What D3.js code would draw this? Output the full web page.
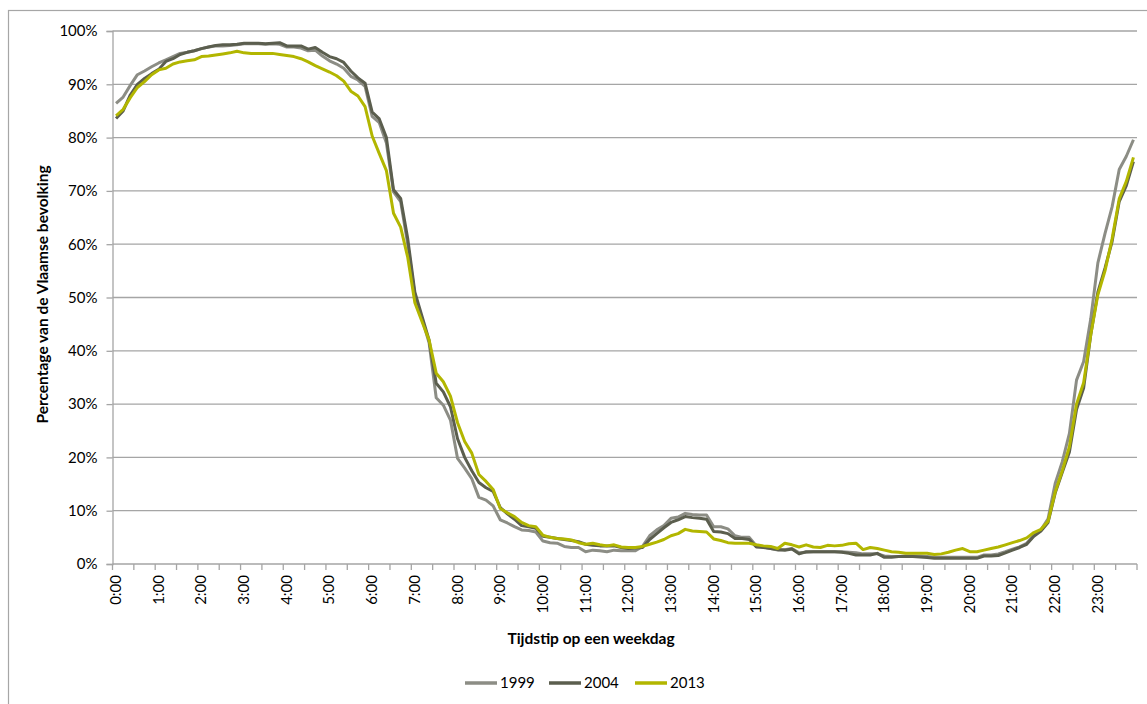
<!DOCTYPE html>
<html>
<head>
<meta charset="utf-8">
<script src="https://cdn.jsdelivr.net/npm/d3@7"></script>
<style>
body{margin:0;background:#fff;}
text{font-family:Lato,"Open Sans",sans-serif;fill:#000;}
</style>
</head>
<body>
<div id="chart"></div>
<script>
//series names and colours
const years = ["1999","2004","2013"];
const colors = ["#8c8d85","#5b5e4e","#b2b600"];

//one value every 10 minutes, 0:00 .. 23:50 (percent)
const v1999 = [86.4,87.6,89.8,91.8,92.5,93.3,94.0,94.6,95.2,95.8,96.0,96.3,
    96.7,97.0,97.2,97.2,97.3,97.4,97.6,97.6,97.6,97.5,97.6,97.5,
    97.0,97.0,96.8,96.3,96.4,95.3,94.4,93.8,93.0,91.5,90.8,89.6,
    84.0,82.8,79.0,69.8,68.0,60.0,50.5,46.0,41.5,31.2,29.8,27.0,
    19.8,18.0,16.0,12.5,12.0,10.9,8.3,7.7,7.0,6.4,6.3,6.0,
    4.3,4.0,3.9,3.3,3.1,3.1,2.3,2.6,2.5,2.3,2.6,2.5,
    2.5,2.5,3.3,5.3,6.4,7.2,8.6,8.8,9.5,9.3,9.2,9.2,
    7.0,7.0,6.6,5.3,5.0,5.0,3.4,3.2,2.9,2.6,2.7,2.9,
    2.1,2.2,2.3,2.3,2.3,2.3,2.3,2.2,2.1,1.9,1.9,1.9,
    1.5,1.4,1.4,1.5,1.5,1.5,1.4,1.25,1.25,1.25,1.25,1.25,
    1.25,1.25,1.7,1.7,1.9,2.3,2.8,3.2,3.9,5.4,6.4,8.5,
    15.1,19.2,24.5,34.5,38.0,46.0,56.5,62.0,67.0,74.0,76.5,79.6];
const v2004 = [83.6,85.0,88.0,90.0,91.1,92.0,92.8,94.3,94.8,95.6,96.0,96.3,
    96.7,97.0,97.3,97.4,97.4,97.5,97.7,97.7,97.7,97.6,97.7,97.8,
    97.2,97.2,97.2,96.6,96.9,96.0,95.2,94.8,94.1,92.5,91.2,90.2,
    84.8,83.5,80.0,70.2,68.6,61.0,51.0,46.5,42.0,33.9,32.3,29.5,
    23.5,20.0,17.5,15.3,14.3,13.6,10.6,9.4,8.4,7.2,7.0,6.7,
    5.2,5.0,4.8,4.6,4.4,4.2,3.7,3.5,3.4,3.4,3.4,3.1,
    2.9,3.0,3.1,4.6,5.7,6.8,7.8,8.3,8.9,8.7,8.6,8.4,
    6.1,6.0,5.7,4.8,4.8,4.6,3.2,3.1,2.9,2.7,2.6,2.8,
    1.9,2.3,2.3,2.3,2.3,2.3,2.2,2.0,1.7,1.7,1.7,2.0,
    1.25,1.25,1.4,1.4,1.4,1.3,1.2,1.06,1.06,1.06,1.06,1.06,
    1.06,1.06,1.5,1.5,1.6,2.1,2.6,3.1,3.7,5.2,6.2,7.8,
    13.3,17.2,21.0,29.0,33.0,43.0,51.0,55.5,60.5,68.0,71.0,75.5];
const v2013 = [84.1,85.3,87.5,89.4,90.5,91.8,92.7,93.0,93.8,94.2,94.4,94.6,
    95.2,95.3,95.5,95.7,95.9,96.2,95.9,95.8,95.8,95.8,95.8,95.6,
    95.4,95.2,94.8,94.2,93.5,92.9,92.3,91.6,90.6,88.7,87.8,85.8,
    80.3,77.0,73.8,65.8,63.2,57.5,49.0,45.5,42.0,35.8,34.2,31.5,
    26.5,23.0,20.8,16.8,15.5,14.0,10.4,9.6,8.9,7.8,7.2,7.0,
    5.4,5.0,4.8,4.7,4.5,4.0,3.7,3.9,3.6,3.4,3.6,3.2,
    3.1,3.1,3.3,3.7,4.1,4.6,5.3,5.7,6.5,6.2,6.1,6.0,
    4.7,4.4,4.0,3.9,3.9,3.9,3.6,3.4,3.3,2.9,3.9,3.6,
    3.2,3.6,3.2,3.1,3.5,3.4,3.5,3.8,3.9,2.7,3.1,2.9,
    2.6,2.3,2.2,2.0,2.0,2.0,2.0,1.8,1.9,2.2,2.6,2.9,
    2.3,2.3,2.6,2.9,3.2,3.6,4.0,4.4,4.9,5.9,6.5,8.0,
    13.5,17.5,22.0,30.0,34.0,43.0,50.5,55.0,61.0,68.5,71.8,76.3];
const series = [v1999, v2004, v2013];

//category labels: every 10 minutes
const times = [];
for (let hr = 0; hr < 24; hr++) {
    for (let m = 0; m < 60; m += 10) {
        times.push(hr + ":" + (m < 10 ? "0" + m : m));
    }
}
const yTicks = [0,10,20,30,40,50,60,70,80,90,100];

const w = 1147;
const h = 704;
const padLeft = 112.5, padRight = 1137, padTop = 31, padBottom = 564;
const gridColor = "#a5a5a5";

const svg = d3.select("#chart")
    .append("svg")
    .attr("width", w)
    .attr("height", h);

//outer frame of the chart area
svg.append("rect")
    .attr("x", 8.5)
    .attr("y", 10.5)
    .attr("width", 1160)
    .attr("height", 720)
    .attr("fill", "none")
    .attr("stroke", "#a6a6a6")
    .attr("stroke-width", 1.2);

const xScale = d3.scaleBand()
    .domain(times)
    .range([padLeft, padRight]);

const yScale = d3.scaleLinear()
    .domain([0, 100])
    .range([padBottom, padTop]);

//horizontal grid lines
svg.append("g")
    .selectAll("line")
    .data(yTicks.slice(1))
    .enter()
    .append("line")
    .attr("x1", padLeft)
    .attr("x2", padRight)
    .attr("y1", d => yScale(d))
    .attr("y2", d => yScale(d))
    .attr("stroke", gridColor)
    .attr("stroke-width", 1.3);

//y axis
const yAxis = d3.axisLeft(yScale)
    .tickValues(yTicks)
    .tickFormat(d => d + "%")
    .tickSize(6)
    .tickPadding(9);

const gy = svg.append("g")
    .attr("transform", "translate(" + padLeft + ",0)")
    .call(yAxis);
gy.selectAll("path,line").attr("stroke", gridColor).attr("stroke-width", 1.3);
gy.selectAll("text").style("font-size", "15px").style("font-family", "Lato");

//x axis: tick every half hour, label every hour
const gx = svg.append("g")
    .attr("transform", "translate(0," + padBottom + ")");
gx.append("line")
    .attr("x1", padLeft)
    .attr("x2", padRight)
    .attr("stroke", gridColor)
    .attr("stroke-width", 1.3);
gx.selectAll(".tick")
    .data(d3.range(0, times.length + 1, 3))
    .enter()
    .append("line")
    .attr("class", "tick")
    .attr("x1", d => d < times.length ? xScale(times[d]) : padRight)
    .attr("x2", d => d < times.length ? xScale(times[d]) : padRight)
    .attr("y1", 0)
    .attr("y2", 6)
    .attr("stroke", gridColor)
    .attr("stroke-width", 1.3);
gx.selectAll(".lab")
    .data(times.filter((t, i) => i % 6 === 0))
    .enter()
    .append("text")
    .attr("class", "lab")
    .attr("transform", d => "translate(" + (xScale(d) + xScale.bandwidth() / 2 + 5) + ",11) rotate(-90)")
    .attr("text-anchor", "end")
    .style("font-size", "15px")
    .text(d => d);

//the three lines
const line = d3.line()
    .x((d, i) => xScale(times[i]) + xScale.bandwidth() / 2)
    .y(d => yScale(d));

svg.append("g")
    .selectAll("path")
    .data(series)
    .enter()
    .append("path")
    .attr("d", d => line(d))
    .attr("fill", "none")
    .attr("stroke", (d, i) => colors[i])
    .attr("stroke-width", 3)
    .attr("stroke-linejoin", "round");

//axis titles
svg.append("text")
    .attr("transform", "translate(48," + ((padTop + padBottom) / 2 - 3) + ") rotate(-90)")
    .attr("text-anchor", "middle")
    .style("font-size", "15.5px")
    .style("font-weight", "bold")
    .text("Percentage van de Vlaamse bevolking");

svg.append("text")
    .attr("x", 591)
    .attr("y", 644)
    .attr("text-anchor", "middle")
    .style("font-size", "15.5px")
    .style("font-weight", "bold")
    .text("Tijdstip op een weekdag");

//legend
const legend = svg.append("g")
    .attr("transform", "translate(465,683)");
const legendX = [0, 84, 170];
years.forEach((y, i) => {
    legend.append("line")
        .attr("x1", legendX[i])
        .attr("x2", legendX[i] + 32)
        .attr("stroke", colors[i])
        .attr("stroke-width", 3.5);
    legend.append("text")
        .attr("x", legendX[i] + 35)
        .attr("y", 5)
        .style("font-size", "15px")
        .text(y);
});
</script>
</body>
</html>
